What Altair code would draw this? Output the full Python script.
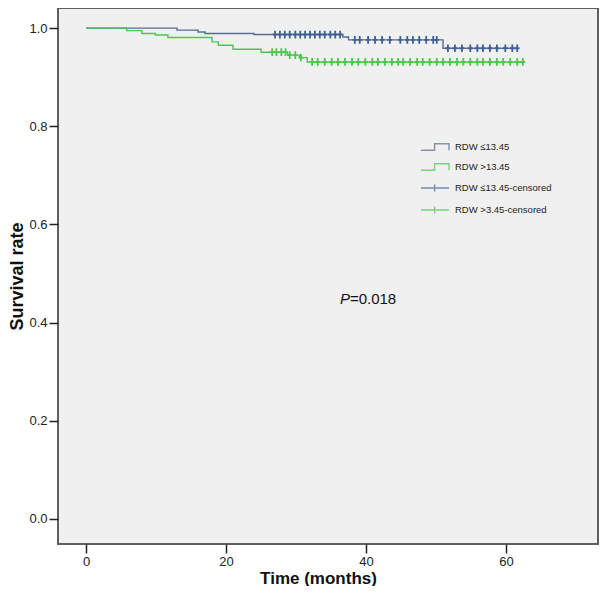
import altair as alt
import pandas as pd

# ---- data ----
groups = ["RDW ≤13.45", "RDW >13.45"]
legend_labels = ["RDW ≤13.45", "RDW >13.45", "RDW ≤13.45-censored", "RDW >3.45-censored"]

blue_step_t = [0, 13.0, 16.0, 17.0, 24.0, 36.7, 37.5, 51.0, 61.6]
blue_step_s = [1.0, 0.996, 0.992, 0.989, 0.987, 0.982, 0.976, 0.959, 0.959]

green_step_t = [0, 5.8, 8.0, 9.9, 11.7, 18.0, 18.9, 21.0, 25.0, 28.8, 30.5, 31.6, 62.7]
green_step_s = [1.0, 0.995, 0.989, 0.986, 0.981, 0.972, 0.965, 0.957, 0.951, 0.945, 0.940, 0.931, 0.931]

blue_censor_t = [27.0, 27.7, 28.4, 29.1, 29.9, 30.6, 31.3, 32.0, 32.7, 33.4, 34.1, 34.9, 35.6, 36.3,
                 38.4, 39.1, 40.3, 41.3, 42.3, 43.4, 44.9, 45.9, 46.7, 47.6, 48.6, 49.6, 50.1,
                 51.7, 52.7, 53.7, 54.9, 55.9, 56.7, 57.7, 58.7, 59.9, 60.9, 61.6]
green_censor_t = [26.6, 27.2, 27.9, 28.5, 29.1, 29.9, 30.7,
                  32.3, 33.1, 34.1, 35.1, 36.0, 37.0, 38.0, 38.9, 39.9, 40.9, 41.7, 42.7, 43.7,
                  44.6, 45.3, 46.3, 47.3, 48.1, 49.1, 50.1, 51.0, 52.0, 53.0, 53.9, 54.9, 55.9,
                  56.7, 57.7, 58.7, 59.6, 60.6, 61.6, 62.4]

x_ticks = [0, 20, 40, 60]
y_ticks = [0.0, 0.2, 0.4, 0.6, 0.8, 1.0]
p_label = ["P", "=0.018"]

BLUE = "#3f6196"
BLUE_LINE = "#5a6a96"
GREEN = "#4cc64c"
FONT = "Liberation Sans"


def step_value(ts, ss, t):
    v = ss[0]
    for a, b in zip(ts, ss):
        if a <= t:
            v = b
    return v


blue_curve = pd.DataFrame({"time": blue_step_t, "surv": blue_step_s})
green_curve = pd.DataFrame({"time": green_step_t, "surv": green_step_s})
blue_cens = pd.DataFrame({"time": blue_censor_t,
                          "surv": [step_value(blue_step_t, blue_step_s, t) for t in blue_censor_t]})
green_cens = pd.DataFrame({"time": green_censor_t,
                           "surv": [step_value(green_step_t, green_step_s, t) for t in green_censor_t]})

xscale = alt.Scale(domain=[-4, 73.14], nice=False, zero=False)
yscale = alt.Scale(domain=[-0.051, 1.041], nice=False, zero=False)

xaxis = alt.Axis(values=x_ticks, title="Time (months)", format="d", grid=False, domain=False,
                 tickSize=9, tickWidth=1.5, tickColor="#222", labelPadding=2,
                 labelFontSize=13, labelColor="#222", titleFontSize=17, titleFontWeight="bold",
                 titleColor="#111", titlePadding=2, titleX=260)
yaxis = alt.Axis(values=y_ticks, title="Survival rate", format=".1f", grid=False, domain=False,
                 tickSize=9, tickWidth=1.5, tickColor="#222", labelPadding=2,
                 labelFontSize=13, labelColor="#222", titleFontSize=18, titleFontWeight="bold",
                 titleColor="#111", titlePadding=2)

X = alt.X("time:Q", scale=xscale, axis=xaxis)
Y = alt.Y("surv:Q", scale=yscale, axis=yaxis)


def line_layer(df, color):
    return alt.Chart(df).mark_line(interpolate="step-after", color=color, strokeWidth=1.4).encode(
        x=X, y=Y)


def cens_layer(df, color):
    return alt.Chart(df).mark_point(shape="M0,-1V1M-0.6,0H0.6", size=60, filled=False,
                                    color=color, strokeWidth=1.8, opacity=1).encode(x=X, y=Y)


legend_df = pd.DataFrame({"label": legend_labels, "time": [-100] * 4, "surv": [-10] * 4})
legend_layer = alt.Chart(legend_df).mark_point(filled=False, clip=True, strokeWidth=1.4).encode(
    x=X, y=Y,
    color=alt.Color("label:N", scale=alt.Scale(domain=legend_labels,
                                               range=[BLUE_LINE, GREEN, BLUE, GREEN]),
                    legend=alt.Legend(title=None, orient="none", legendX=382, legendY=134,
                                      labelFontSize=9.5, labelColor="#222", labelOffset=5,
                                      symbolSize=64, symbolStrokeWidth=1.4, rowPadding=8,
                                      symbolFillColor="transparent")),
    shape=alt.Shape("label:N", scale=alt.Scale(domain=legend_labels,
                                               range=["M-6,0.8H-2.6V-0.8H1V0.8",
                                                      "M-6,0.8H-2.6V-0.8H1V0.8",
                                                      "M-6,0H1M-2.6,-0.9V0.9",
                                                      "M-6,0H1M-2.6,-0.9V0.9"]),
                    legend=None),
)

p_df = pd.DataFrame({"time": [37.7], "surv": [0.448]})
p_italic = alt.Chart(p_df).mark_text(text=p_label[0], align="right", baseline="middle",
                                      fontSize=15, fontStyle="italic", font=FONT,
                                      color="#111").encode(x=X, y=Y)
p_rest = alt.Chart(p_df).mark_text(text=p_label[1], align="left", baseline="middle",
                                    fontSize=15, font=FONT, color="#111").encode(x=X, y=Y)

chart = alt.layer(
    line_layer(blue_curve, BLUE_LINE),
    line_layer(green_curve, GREEN),
    cens_layer(blue_cens, BLUE),
    cens_layer(green_cens, GREEN),
    legend_layer,
    p_italic,
    p_rest,
).properties(
    width=540, height=536,
    autosize=alt.AutoSizeParams(type="none"),
    padding={"left": 50, "top": 0, "right": 1, "bottom": 42},
).configure(
    font=FONT, background="white"
).configure_view(
    fill="#f0f0f0", stroke="#606060", strokeWidth=2
)

chart.save("out.html", embed_options={"renderer": "svg", "actions": False})
